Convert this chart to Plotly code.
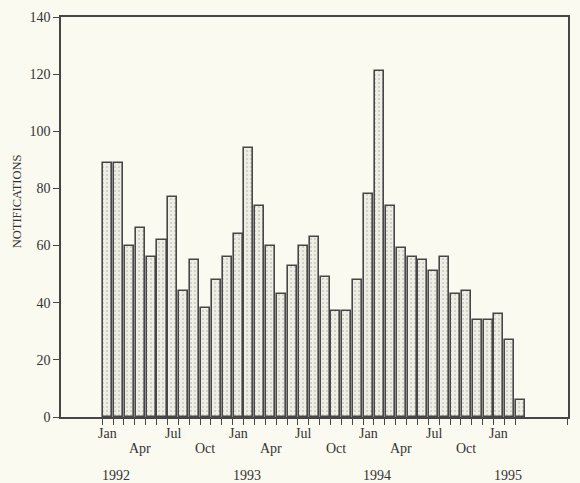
import plotly.graph_objects as go

# Monthly notifications, Jan 1992 - Mar 1995
notifications = [
    89, 89, 60, 66, 56, 62, 77, 44, 55, 38, 48, 56,   # 1992
    64, 94, 74, 60, 43, 53, 60, 63, 49, 37, 37, 48,   # 1993
    78, 121, 74, 59, 56, 55, 51, 56, 43, 44, 34, 34,  # 1994
    36, 27, 6,                                        # 1995
]
month_names = ["Jan", "Feb", "Mar", "Apr", "May", "Jun",
               "Jul", "Aug", "Sep", "Oct", "Nov", "Dec"]
labelled_months = ["Jan", "Apr", "Jul", "Oct"]
years = ["1992", "1993", "1994", "1995"]
y_ticks = [0, 20, 40, 60, 80, 100, 120, 140]

n = len(notifications)
x = list(range(n))

INK = "#333333"
LINE = "#464646"
PAPER = "#fbfaf0"
FONT = "Liberation Serif"

fig = go.Figure(
    go.Bar(
        x=x,
        y=notifications,
        width=0.83,
        marker=dict(
            color="#ecebe2",
            line=dict(color=LINE, width=1.6),
            pattern=dict(shape=".", fgcolor="#a6a69e", bgcolor="#efeee5",
                         size=4, solidity=0.22),
        ),
        hoverinfo="x+y",
    )
)

x_min, x_max = -4.29, 42.35
# Ticks sit on the month boundaries
boundaries = [i - 0.5 for i in range(n)] + [x_max - 0.01]

annotations = []
for i in range(n):
    name = month_names[i % 12]
    if name in labelled_months:
        row = 0 if name in ("Jan", "Jul") else 1
        annotations.append(dict(
            x=i, y=0, xref="x", yref="paper", text=name, showarrow=False,
            yanchor="middle", yshift=-16 - 15 * row,
            font=dict(family=FONT, size=14, color=INK)))
for k, yr in enumerate(years):
    annotations.append(dict(
        x=12 * k + 0.8, y=0, xref="x", yref="paper", text=yr, showarrow=False,
        yanchor="middle", yshift=-58,
        font=dict(family=FONT, size=14, color=INK)))
annotations.append(dict(
    x=0, y=75.5, xref="paper", yref="y", xshift=-44, text="NOTIFICATIONS",
    showarrow=False, textangle=-90, xanchor="center", yanchor="middle",
    font=dict(family=FONT, size=12.5, color=INK)))

fig.update_layout(
    width=580, height=483,
    margin=dict(l=61, r=10, t=16, b=66),
    paper_bgcolor=PAPER, plot_bgcolor=PAPER,
    showlegend=False,
    annotations=annotations,
    xaxis=dict(
        range=[x_min, x_max],
        tickmode="array", tickvals=boundaries, ticktext=[""] * len(boundaries),
        ticks="outside", ticklen=6, tickwidth=1.3, tickcolor=LINE,
        showline=True, linecolor=LINE, linewidth=1.5, mirror=True,
        showgrid=False, zeroline=False,
    ),
    yaxis=dict(
        range=[0, 140],
        tickmode="array", tickvals=y_ticks,
        ticks="outside", ticklen=6, tickwidth=1.3, tickcolor=LINE,
        tickfont=dict(family=FONT, size=14, color=INK),
        showline=True, linecolor=LINE, linewidth=1.5, mirror=True,
        showgrid=False, zeroline=False,
    ),
    bargap=0,
)

fig.write_html("out.html")
